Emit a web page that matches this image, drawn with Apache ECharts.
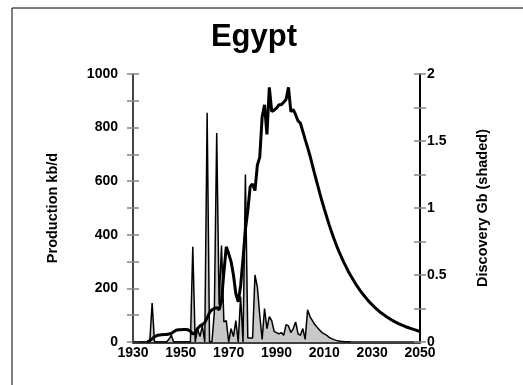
<!DOCTYPE html>
<html>
<head>
<meta charset="utf-8">
<script src="https://cdn.jsdelivr.net/npm/echarts@6/dist/echarts.min.js"></script>
<style>
html,body{margin:0;padding:0;background:#fff;}
#c{width:523px;height:385px;}
</style>
</head>
<body>
<div id="c"></div>
<script>
// Production (kb/d), annual from 1936
var prodStart = 1936;
var production = [
  0, 5, 12, 20, 24, 26, 27, 28, 28, 30,
  32, 38, 44, 46, 46, 47, 47, 46, 40, 30,
  35, 50, 60, 65, 72, 90, 110, 120, 125, 128,
  120, 155, 260, 355, 330, 300, 250, 180, 150, 210,
  310, 420, 490, 580, 590, 565, 660, 690, 840, 885,
  775, 950, 860, 865, 873, 885, 885, 895, 905, 950,
  860, 867, 848, 825, 817, 786, 755, 726, 695, 660,
  625, 592, 558, 526, 496, 467, 438, 411, 386, 362,
  340, 320, 300, 282, 264, 248, 233, 218, 205, 192,
  180, 169, 158, 148, 139, 130, 122, 114, 107, 101,
  94, 89, 83, 78, 73, 69, 65, 61, 57, 54,
  51, 48, 45, 42, 39
];
// Discovery (Gb), annual from 1930
var discStart = 1930;
var discovery = [
  0, 0, 0, 0, 0, 0, 0, 0, 0.29, 0,
  0, 0, 0, 0, 0, 0.02, 0.05, 0, 0, 0,
  0, 0, 0, 0, 0, 0.71, 0, 0.1, 0.04, 0.12,
  0, 1.71, 0, 0, 0.22, 1.56, 0.28, 0.72, 0.15, 0.16,
  0, 0.1, 0.04, 0.16, 0, 0.34, 0, 1.25, 0.03, 0.03,
  0.03, 0.5, 0.41, 0.2, 0.02, 0.25, 0.1, 0.19, 0.16, 0.08,
  0.07, 0.06, 0.07, 0.05, 0.13, 0.12, 0.07, 0.1, 0.15, 0.06,
  0.05, 0.1, 0.02, 0.24, 0.19, 0.16, 0.13, 0.11, 0.09, 0.07,
  0.06, 0.05, 0.035, 0.025, 0.018, 0.012, 0.008, 0.005, 0.003, 0.002,
  0.001, 0
];
var xTicks = [1930, 1950, 1970, 1990, 2010, 2030, 2050];
var leftTicks = [0, 200, 400, 600, 800, 1000];
var rightTicks = [0, 0.5, 1, 1.5, 2];

var prodData = production.map(function (v, i) { return [prodStart + i, v]; });
var discData = discovery.map(function (v, i) { return [discStart + i, v]; });

var FONT = '"Liberation Sans", Arial, sans-serif';
var chart = echarts.init(document.getElementById('c'), null, {renderer: 'canvas'});
function near(list, v) { return list.some(function (t) { return Math.abs(t - v) < 1e-6; }); }

chart.setOption({
  backgroundColor: '#fff',
  animation: false,
  title: {
    text: 'Egypt', left: 249, top: 17, textAlign: 'center',
    textStyle: {fontFamily: FONT, fontWeight: 'bold', fontSize: 31, color: '#000'}
  },
  graphic: [{
    type: 'rect', shape: {x: 12, y: 8, width: 600, height: 500},
    style: {fill: 'none', stroke: '#000', lineWidth: 1}, silent: true, z: -10
  }],
  grid: {left: 133, right: 103, top: 74, bottom: 43, containLabel: false},
  xAxis: [{
    type: 'value', min: 1930, max: 2050, interval: 20,
    axisLine: {lineStyle: {color: '#000', width: 2.5}},
    axisTick: {show: false}, splitLine: {show: false},
    axisLabel: {margin: 4, fontFamily: FONT, fontWeight: 'bold', fontSize: 14, color: '#000',
      formatter: function (v) { return near(xTicks, v) ? String(v) : ''; }}
  }, {
    type: 'value', position: 'top', min: 1930, max: 2050,
    axisLine: {show: true, lineStyle: {color: '#555', width: 1.5}},
    axisTick: {show: false}, axisLabel: {show: false}, splitLine: {show: false}
  }],
  yAxis: [{
    type: 'value', position: 'left', min: 0, max: 1000, interval: 100,
    name: 'Production kb/d', nameLocation: 'middle', nameGap: 73,
    nameTextStyle: {fontFamily: FONT, fontWeight: 'bold', fontSize: 14.5, color: '#000'},
    axisLine: {show: true, lineStyle: {color: '#444', width: 2}},
    axisTick: {show: true, length: 6, lineStyle: {color: '#888', width: 1.5}},
    splitLine: {show: false},
    axisLabel: {margin: 15, fontFamily: FONT, fontWeight: 'bold', fontSize: 14, color: '#000',
      formatter: function (v) { return near(leftTicks, v) ? String(v) : ''; }}
  }, {
    type: 'value', position: 'left', min: 0, max: 1000, interval: 100,
    axisLine: {show: false},
    axisTick: {show: true, inside: true, length: 6, lineStyle: {color: '#888', width: 1.5}},
    axisLabel: {show: false}, splitLine: {show: false}
  }, {
    type: 'value', position: 'right', min: 0, max: 2, interval: 0.25,
    name: 'Discovery Gb (shaded)', nameLocation: 'middle', nameGap: 55,
    nameTextStyle: {fontFamily: FONT, fontWeight: 'bold', fontSize: 14.5, color: '#000'},
    axisLine: {show: true, lineStyle: {color: '#000', width: 2}},
    axisTick: {show: true, length: 6, lineStyle: {color: '#888', width: 1.5}},
    splitLine: {show: false},
    axisLabel: {margin: 7, fontFamily: FONT, fontWeight: 'bold', fontSize: 14, color: '#000',
      formatter: function (v) { return near(rightTicks, v) ? String(v) : ''; }}
  }, {
    type: 'value', position: 'right', min: 0, max: 2, interval: 0.25,
    axisLine: {show: false},
    axisTick: {show: true, inside: true, length: 6, lineStyle: {color: '#888', width: 1.5}},
    axisLabel: {show: false}, splitLine: {show: false}
  }],
  series: [{
    name: 'Discovery', type: 'line', yAxisIndex: 2, data: discData,
    symbol: 'none', z: 2,
    lineStyle: {color: '#000', width: 1.5},
    areaStyle: {color: '#c8c8c8', opacity: 1}
  }, {
    name: 'Production', type: 'line', yAxisIndex: 0, data: prodData,
    symbol: 'none', z: 3,
    lineStyle: {color: '#000', width: 3}
  }]
});
</script>
</body>
</html>
